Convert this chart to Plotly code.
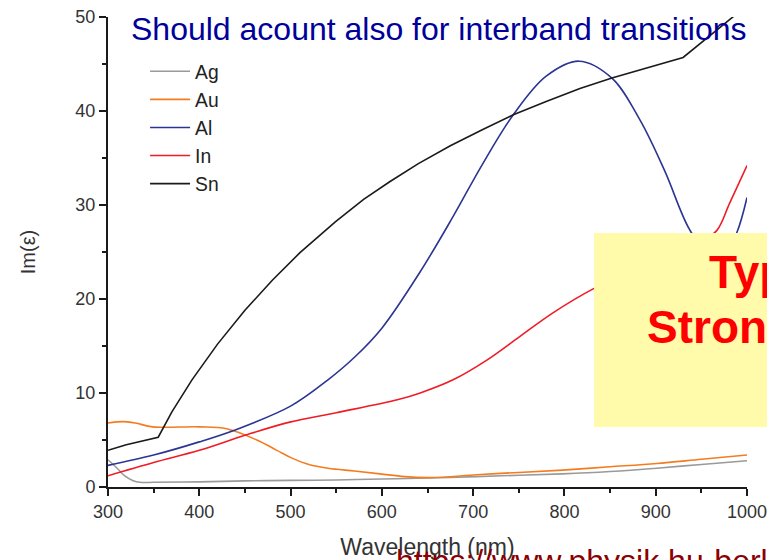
import plotly.graph_objects as go

# ---- data ----
ag_x = [300, 310, 318, 327, 335, 350, 400, 450, 500, 550, 600, 650, 704, 750, 798, 850, 901, 950, 1000]
ag_y = [2.9, 2.0, 1.2, 0.7, 0.5, 0.5, 0.55, 0.65, 0.7, 0.75, 0.85, 0.95, 1.1, 1.25, 1.4, 1.65, 2.0, 2.4, 2.8]

au_x = [300, 316, 330, 349, 400, 430, 463, 485, 501, 520, 541, 570, 598, 625, 653, 704, 750, 798, 850, 901, 950, 1000]
au_y = [6.8, 6.95, 6.8, 6.4, 6.4, 6.2, 5.0, 3.9, 3.1, 2.4, 2.0, 1.7, 1.4, 1.1, 1.0, 1.3, 1.55, 1.8, 2.15, 2.5, 2.95, 3.4]

al_x = [300, 350, 400, 440, 500, 541, 570, 600, 642, 677, 710, 744, 780, 816, 852, 883, 910, 937, 960, 975, 989, 1000]
al_y = [2.3, 3.4, 4.8, 6.1, 8.6, 11.4, 13.8, 16.9, 22.9, 28.6, 34.3, 39.6, 43.7, 45.3, 43.5, 39.0, 33.6, 27.4, 24.5, 24.6, 27.1, 30.8]

in_x = [300, 350, 400, 450, 499, 550, 618, 642, 678, 715, 751, 787, 832, 870, 900, 930, 950, 967, 981, 1000]
in_y = [1.2, 2.6, 3.9, 5.5, 6.9, 7.9, 9.3, 10.0, 11.4, 13.5, 16.0, 18.5, 21.1, 22.8, 24.0, 25.2, 26.1, 27.3, 30.2, 34.2]

sn_x = [300, 320, 355, 370, 392, 420, 450, 480, 510, 549, 580, 609, 640, 675, 710, 744, 780, 817, 852, 890, 930, 987, 1000]
sn_y = [3.9, 4.5, 5.3, 8.0, 11.4, 15.2, 18.8, 22.0, 24.9, 28.2, 30.6, 32.5, 34.4, 36.3, 38.0, 39.6, 41.0, 42.4, 43.5, 44.6, 45.7, 50.2, 51.2]

x_ticks = [300, 400, 500, 600, 700, 800, 900, 1000]
y_ticks = [0, 10, 20, 30, 40, 50]

series = [
    ("Ag", ag_x, ag_y, "#9a9a9a", "spline"),
    ("Au", au_x, au_y, "#f47c20", "spline"),
    ("Al", al_x, al_y, "#2b3592", "spline"),
    ("In", in_x, in_y, "#ee1c25", "spline"),
    ("Sn", sn_x, sn_y, "#1a1a1a", "linear"),
]

fig = go.Figure()
for name, xs, ys, col, shape in series:
    line = dict(color=col, width=1.6, shape=shape)
    if shape == "spline":
        line["smoothing"] = 1.0
    fig.add_trace(go.Scatter(x=xs, y=ys, name=name, mode="lines", line=line))

FONT = "Arial, Liberation Sans, sans-serif"
axis_common = dict(
    showline=True, linecolor="#1a1a1a", linewidth=2, mirror=False,
    ticks="outside", ticklen=7, tickwidth=2, tickcolor="#1a1a1a",
    showgrid=False, zeroline=False, automargin=False,
    ticklabeloverflow="allow",
    tickfont=dict(family=FONT, size=18, color="#333333"),
)

fig.update_xaxes(
    range=[300, 1000], tickvals=x_ticks,
    minor=dict(dtick=50, ticks="outside", ticklen=4, tickwidth=2, tickcolor="#1a1a1a"),
    title=dict(text="Wavelength (nm)", font=dict(family=FONT, size=23, color="#333333"), standoff=22),
    **axis_common,
)
fig.update_yaxes(
    range=[0, 50], tickvals=y_ticks,
    minor=dict(dtick=5, ticks="outside", ticklen=4, tickwidth=2, tickcolor="#1a1a1a"),
    title=dict(text="Im(ε)", font=dict(family=FONT, size=20, color="#333333"), standoff=34),
    **axis_common,
)

fig.update_layout(
    width=767, height=560,
    margin=dict(l=108, r=20, t=17, b=73),
    paper_bgcolor="white", plot_bgcolor="white",
    font=dict(family=FONT),
    showlegend=True,
    legend=dict(
        x=0.058, y=0.925, xanchor="left", yanchor="top",
        bgcolor="rgba(0,0,0,0)", borderwidth=0,
        font=dict(size=19.3, color="#222222"),
        tracegroupgap=0, itemwidth=40,
    ),
    shapes=[dict(
        type="rect", xref="paper", yref="paper",
        x0=0.7606, x1=1.2, y0=0.1277, y1=0.5404,
        fillcolor="#fffbaa", line=dict(width=0), layer="above",
    )],
    annotations=[
        dict(text="Should acount also for interband transitions", xref="paper", yref="paper",
             x=(129 - 108) / 639, y=0.9745, xanchor="left", yanchor="middle", showarrow=False,
             font=dict(size=32, color="#00009a")),
        dict(text="<b>Typical</b>", xref="paper", yref="paper",
             x=(707 - 108) / 639, y=0.457, xanchor="left", yanchor="middle", showarrow=False,
             font=dict(size=46, color="#ff0000")),
        dict(text="<b>Strong</b>", xref="paper", yref="paper",
             x=(645 - 108) / 639, y=0.340, xanchor="left", yanchor="middle", showarrow=False,
             font=dict(size=46, color="#ff0000")),
        dict(text="https://www.physik.hu-berlin.de", xref="paper", yref="paper",
             x=(394 - 108) / 639, y=(487 - 541) / 470, xanchor="left", yanchor="top", showarrow=False,
             font=dict(size=32, color="#8b0000")),
    ],
)

fig.write_html("out.html")
